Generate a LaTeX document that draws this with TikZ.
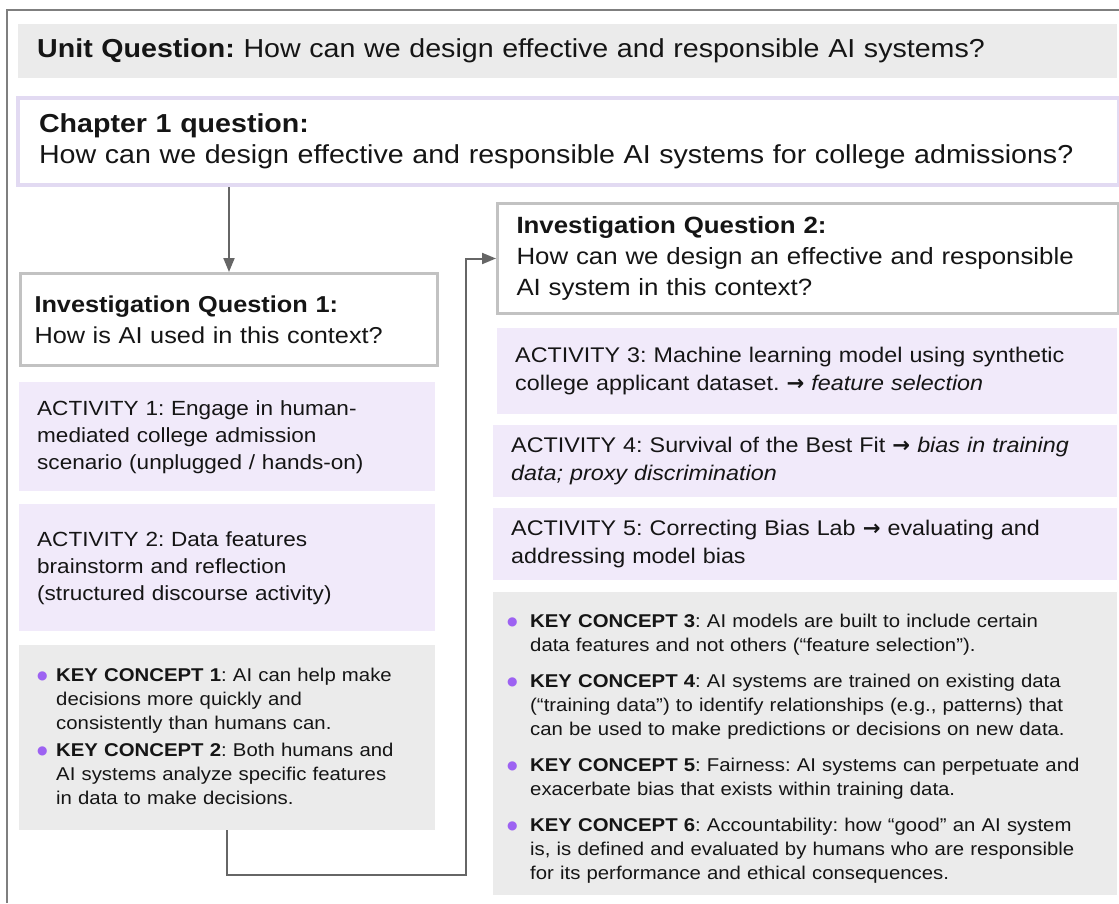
\documentclass[tikz,border=0pt]{standalone}
\usepackage{fontspec}
\setmainfont{Liberation Sans}[FakeStretch=1.1]
\newfontfamily\symfont{DejaVu Sans}
\usetikzlibrary{arrows.meta}
\frenchspacing

\definecolor{framegray}{HTML}{7F7F7F}
\definecolor{panelgray}{HTML}{EBEBEB}
\definecolor{lavfill}{HTML}{F1EAFA}
\definecolor{lavline}{HTML}{E2DAF2}
\definecolor{boxline}{HTML}{C2C2C2}
\definecolor{linkgray}{HTML}{666666}
\definecolor{dotpurple}{HTML}{9D62F2}
\definecolor{ink}{HTML}{151515}

% font sizes
\newcommand\headtext{\fontsize{26}{31}\selectfont}
\newcommand\iqonetext{\fontsize{23}{31}\selectfont}
\newcommand\iqtwotext{\fontsize{23.5}{31}\selectfont}
\newcommand\acttext{\fontsize{20.5}{27}\selectfont}
\newcommand\actrtext{\fontsize{21.2}{27.5}\selectfont}
\newcommand\kctext{\fontsize{18.5}{24}\selectfont}
\newcommand\arr{{\symfont\bfseries →}}
% bullet item with hanging indent
\newlength\kchang
\setlength\kchang{19pt}
\newcommand\kitem[1]{\par\hangindent=\kchang\hangafter=1\noindent
  \makebox[\kchang][l]{\textcolor{dotpurple}{\raisebox{2pt}{\fontsize{12}{12}\symfont ●}}}#1\par}

\tikzset{
  panel/.style={anchor=north west, inner ysep=0pt, align=left,
    text=ink, font=#1},
  greypanel/.style={panel=\headtext, fill=panelgray},
  lavpanel/.style={panel=\acttext, fill=lavfill},
  lavrpanel/.style={panel=\actrtext, fill=lavfill},
  kcpanel/.style={panel=\kctext, fill=panelgray},
  qpanel/.style={panel=#1, fill=white, draw=boxline, line width=3pt},
  link/.style={draw=linkgray, line width=2pt,
    -{Triangle[length=14pt,width=11pt]}},
}

\begin{document}
\begin{tikzpicture}[x=1pt, y=-1pt]
\useasboundingbox (0,0) rectangle (1119,903);

% outer frame
\draw[framegray, line width=2pt] (7,903) -- (7,10) -- (1119,10);

% unit question
\node[greypanel, inner xsep=19pt, text width=1061pt, minimum height=54pt]
  (unit) at (18,24) {\textbf{Unit Question:} How can we design effective and responsible AI systems?};

% chapter question
\node[panel=\headtext, fill=white, draw=lavline, line width=4pt,
  inner xsep=21pt, text width=1059pt, minimum height=87pt]
  (chap) at (16,96) {\textbf{Chapter 1 question:}\\How can we design effective and responsible AI systems for college admissions?};

% investigation questions
\node[qpanel=\iqonetext, inner xsep=14pt, text width=389pt, minimum height=92pt]
  (iq1) at (19,272) {\textbf{Investigation Question 1:}\\How is AI used in this context?};
\node[qpanel=\iqtwotext, inner xsep=19pt, text width=583pt, minimum height=110pt]
  (iq2) at (496,202) {\textbf{Investigation Question 2:}\\How can we design an effective and responsible\\AI system in this context?};

% left column
\node[lavpanel, inner xsep=18pt, text width=380pt, minimum height=109pt]
  (act1) at (19,382) {ACTIVITY 1: Engage in human-\\mediated college admission\\scenario (unplugged / hands-on)};
\node[lavpanel, inner xsep=18pt, text width=380pt, minimum height=127pt]
  (act2) at (19,504) {ACTIVITY 2: Data features\\brainstorm and reflection\\(structured discourse activity)};
\node[kcpanel, inner xsep=18pt, text width=380pt, minimum height=185pt]
  (kc1) at (19,645) {%
  \kitem{\textbf{KEY CONCEPT 1}: AI can help make\newline decisions more quickly and\newline consistently than humans can.}\vspace{3pt}
  \kitem{\textbf{KEY CONCEPT 2}: Both humans and\newline AI systems analyze specific features\newline in data to make decisions.}\vspace{14pt}};

% right column
\node[lavrpanel, inner xsep=18pt, text width=584pt, minimum height=86pt]
  (act3) at (497,328) {ACTIVITY 3: Machine learning model using synthetic\\college applicant dataset. \arr{} \textit{feature selection}};
\node[lavrpanel, inner xsep=18pt, text width=588pt, minimum height=72pt]
  (act4) at (493,425) {ACTIVITY 4: Survival of the Best Fit \arr{} \textit{bias in training}\\\textit{data; proxy discrimination}};
\node[lavrpanel, inner xsep=18pt, text width=588pt, minimum height=72pt]
  (act5) at (493,508) {ACTIVITY 5: Correcting Bias Lab \arr{} evaluating and\\addressing model bias};
\node[kcpanel, inner xsep=14pt, text width=596pt, minimum height=303pt]
  (kc2) at (493,592) {\setlength\kchang{23pt}%
  \kitem{\textbf{KEY CONCEPT 3}: AI models are built to include certain\newline data features and not others (“feature selection”).}\vspace{12pt}
  \kitem{\textbf{KEY CONCEPT 4}: AI systems are trained on existing data\newline (“training data”) to identify relationships (e.g., patterns) that\newline can be used to make predictions or decisions on new data.}\vspace{12pt}
  \kitem{\textbf{KEY CONCEPT 5}: Fairness: AI systems can perpetuate and\newline exacerbate bias that exists within training data.}\vspace{12pt}
  \kitem{\textbf{KEY CONCEPT 6}: Accountability: how “good” an AI system\newline is, is defined and evaluated by humans who are responsible\newline for its performance and ethical consequences.}};

% connectors
\draw[link] (chap.south -| iq1.north) -- (iq1.north);
\coordinate (turn) at (466,875);
\draw[link] (kc1.south) |- (turn) |- (iq2.west);
\end{tikzpicture}
\end{document}
